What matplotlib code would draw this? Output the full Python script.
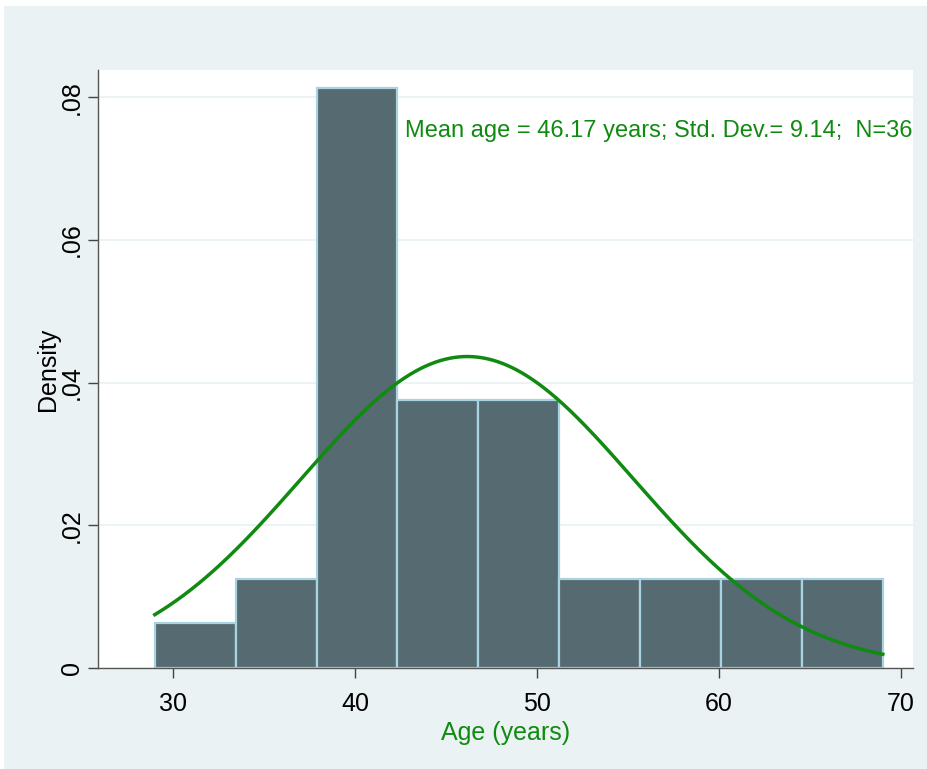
import numpy as np
import matplotlib.pyplot as plt
from matplotlib.patches import Rectangle

# histogram of ages, 9 bins from 29 to 69
bin_edges = [29.0, 33.444, 37.889, 42.333, 46.778, 51.222, 55.667, 60.111, 64.556, 69.0]
counts = [1, 2, 13, 6, 6, 2, 2, 2, 2]
n_obs = 36
mean_age = 46.17
sd_age = 9.14

x_ticks = [30, 40, 50, 60, 70]
y_ticks = [0, 0.02, 0.04, 0.06, 0.08]
y_ticklabels = ["0", ".02", ".04", ".06", ".08"]

fonts = ['Liberation Sans Narrow', 'Liberation Sans', 'DejaVu Sans']
green = '#108a10'
bg = '#eaf2f3'

widths = np.diff(bin_edges)
density = np.array(counts) / (n_obs * widths)

fig = plt.figure(figsize=(9.27, 7.69), dpi=100, facecolor=bg)
# thin white border at top/left like the screenshot
fig.patches.append(Rectangle((0, 0.992), 1, 0.008, transform=fig.transFigure,
                             facecolor='white', edgecolor='none'))
fig.patches.append(Rectangle((0, 0), 0.004, 1, transform=fig.transFigure,
                             facecolor='white', edgecolor='none'))

ax = fig.add_axes([98/927, 1-668/769, (913-98)/927, (668-70)/769])
ax.set_facecolor('white')

for y in y_ticks[1:]:
    ax.axhline(y, color=bg, lw=1.3, zorder=0)

ax.bar(bin_edges[:-1], density, width=widths, align='edge',
       color='#566a71', edgecolor='#a8d4e2', linewidth=1.6, zorder=2)

xs = np.linspace(bin_edges[0], bin_edges[-1], 300)
ys = np.exp(-0.5 * ((xs - mean_age) / sd_age) ** 2) / (sd_age * np.sqrt(2 * np.pi))
ax.plot(xs, ys, color=green, lw=2.5, zorder=3)

ax.set_xlim(25.88, 70.66)
ax.set_ylim(0, 0.0838)
ax.set_xticks(x_ticks)
ax.set_yticks(y_ticks)
ax.set_yticklabels(y_ticklabels, rotation=90, va='center')
for lab in ax.get_xticklabels() + ax.get_yticklabels():
    lab.set_family(fonts)
    lab.set_fontsize(18)
ax.tick_params(direction='out', length=7, width=1, color='#444444')
ax.tick_params(axis='x', pad=10)
ax.tick_params(axis='y', pad=3)

for s in ['top', 'right']:
    ax.spines[s].set_visible(False)
for s in ['left', 'bottom']:
    ax.spines[s].set_color('#555555')
    ax.spines[s].set_linewidth(1)

ax.set_xlabel('Age (years)', family=fonts, fontsize=18, color=green, labelpad=4)
ax.set_ylabel('Density', family=fonts, fontsize=18, color='black', labelpad=0)

ax.text(42.75, 0.0752, 'Mean age = 46.17 years; Std. Dev.= 9.14;  N=36',
        family=fonts, fontsize=17, color=green, va='center', ha='left')

fig.savefig('out.png', dpi=100, facecolor=bg)
